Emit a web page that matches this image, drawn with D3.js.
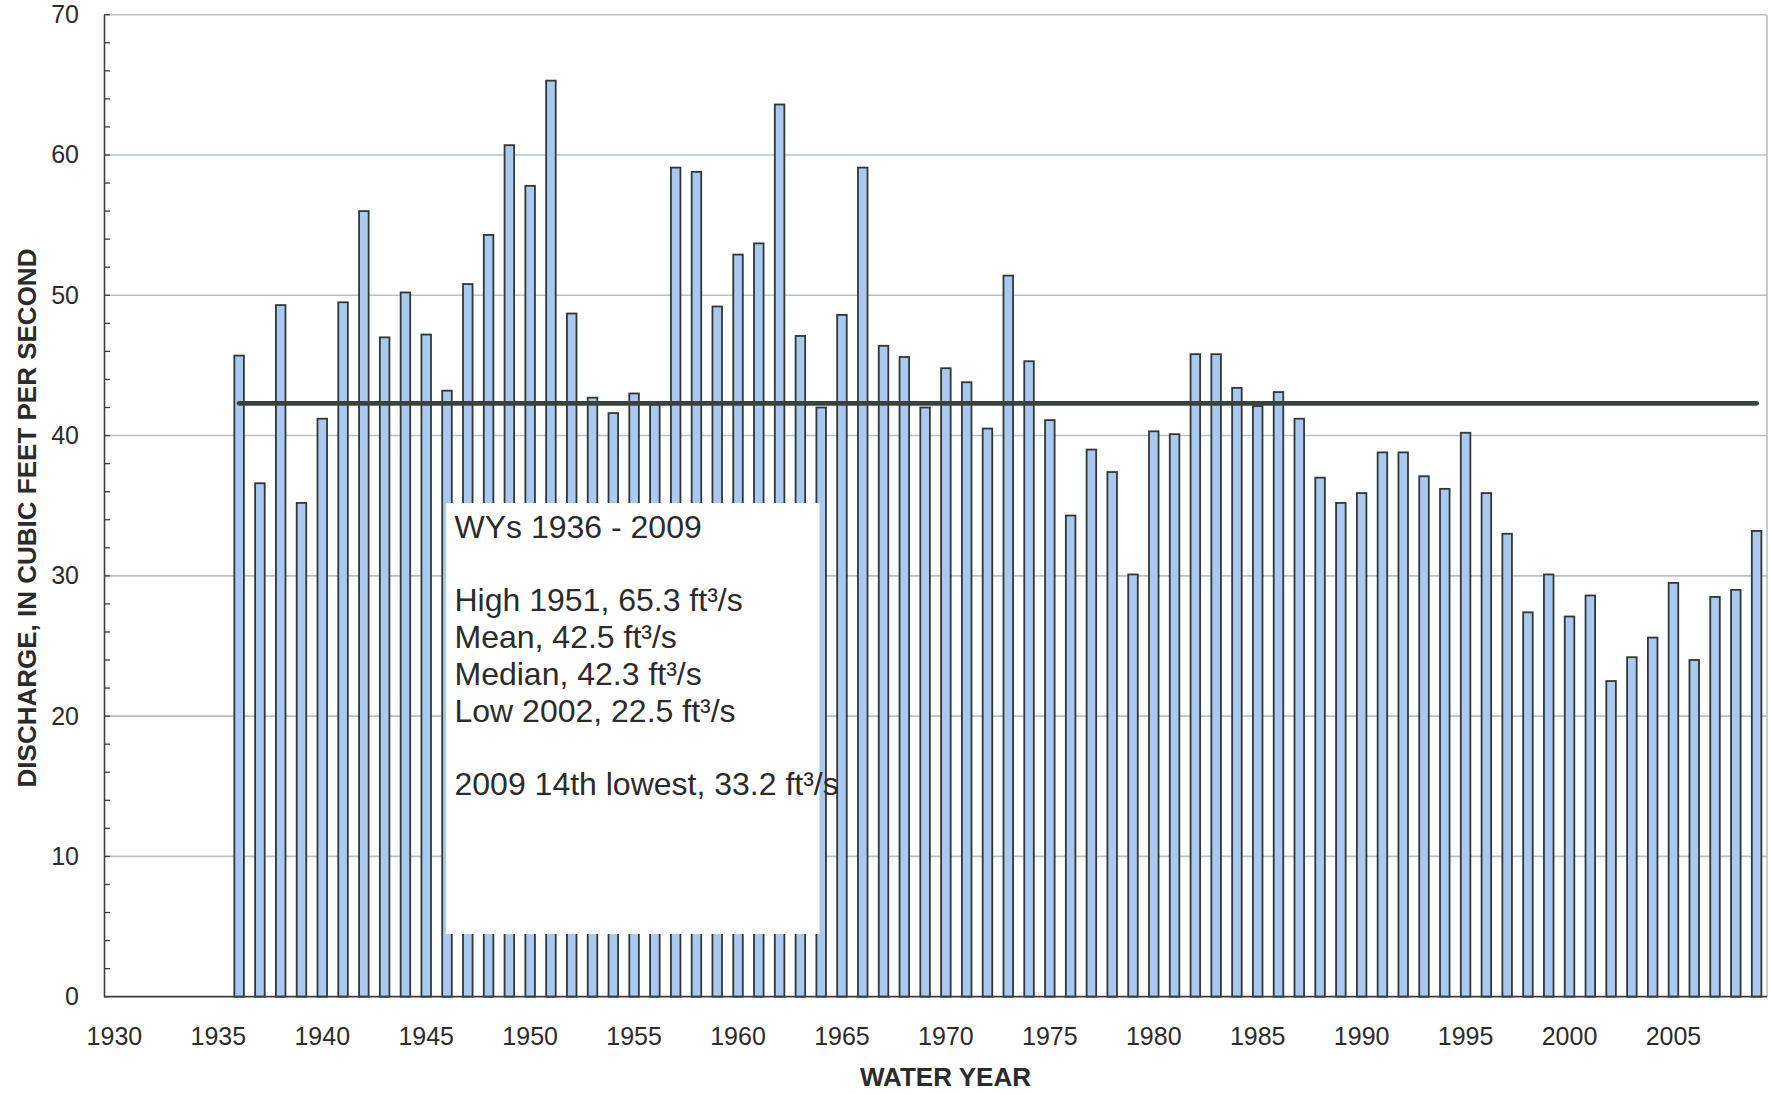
<!DOCTYPE html>
<html>
<head>
<meta charset="utf-8">
<script src="https://cdn.jsdelivr.net/npm/d3@7"></script>
<style>
  html, body { margin: 0; padding: 0; background: #ffffff; }
  svg { display: block; }
  text { font-family: "Liberation Sans", Arial, Helvetica, sans-serif; fill: #2b2b2b; }
</style>
</head>
<body>
<svg id="chart" width="1770" height="1094"></svg>
<script>
// ---------------- data ----------------
const waterYears = [1936,1937,1938,1939,1940,1941,1942,1943,1944,1945,
  1946,1947,1948,1949,1950,1951,1952,1953,1954,1955,
  1956,1957,1958,1959,1960,1961,1962,1963,1964,1965,
  1966,1967,1968,1969,1970,1971,1972,1973,1974,1975,
  1976,1977,1978,1979,1980,1981,1982,1983,1984,1985,
  1986,1987,1988,1989,1990,1991,1992,1993,1994,1995,
  1996,1997,1998,1999,2000,2001,2002,2003,2004,2005,
  2006,2007,2008,2009];
const discharge = [45.7,36.6,49.3,35.2,41.2,49.5,56.0,47.0,50.2,47.2,
  43.2,50.8,54.3,60.7,57.8,65.3,48.7,42.7,41.6,43.0,
  42.2,59.1,58.8,49.2,52.9,53.7,63.6,47.1,42.0,48.6,
  59.1,46.4,45.6,42.0,44.8,43.8,40.5,51.4,45.3,41.1,
  34.3,39.0,37.4,30.1,40.3,40.1,45.8,45.8,43.4,42.1,
  43.1,41.2,37.0,35.2,35.9,38.8,38.8,37.1,36.2,40.2,
  35.9,33.0,27.4,30.1,27.1,28.6,22.5,24.2,25.6,29.5,
  24.0,28.5,29.0,33.2];
const axisFirstYear = 1930;
const axisLastYear = 2009;
const xTickLabels = ["1930","1935","1940","1945","1950","1955","1960","1965",
  "1970","1975","1980","1985","1990","1995","2000","2005"];
const yTickValues = [0,10,20,30,40,50,60,70];
const yMinorStep = 2;
const medianDischarge = 42.3;
const noteLines = [
  "WYs 1936 - 2009",
  "",
  "High 1951, 65.3 ft\u00B3/s",
  "Mean, 42.5 ft\u00B3/s",
  "Median, 42.3 ft\u00B3/s",
  "Low 2002, 22.5 ft\u00B3/s",
  "",
  "2009 14th lowest, 33.2 ft\u00B3/s"
];
const xTitle = "WATER YEAR";
const yTitle = "DISCHARGE, IN CUBIC FEET PER SECOND";

// ---------------- layout ----------------
const plot = { left: 104, right: 1767, top: 14.7, bottom: 996.7 };
const svg = d3.select("#chart");

const x = d3.scaleBand()
  .domain(d3.range(axisFirstYear, axisLastYear + 1).map(String))
  .range([plot.left, plot.right])
  .paddingInner(0.54)
  .paddingOuter(0.27);

const y = d3.scaleLinear()
  .domain([0, 70])
  .range([plot.bottom, plot.top]);

const gridColor = "#b7c2c8";
const axisColor = "#3a3f3f";

// gridlines
svg.append("g")
  .selectAll("line")
  .data(yTickValues.filter(v => v > 0))
  .join("line")
  .attr("x1", plot.left).attr("x2", plot.right)
  .attr("y1", d => y(d)).attr("y2", d => y(d))
  .attr("stroke", gridColor).attr("stroke-width", 1.6);

// right border
svg.append("line")
  .attr("x1", plot.right).attr("x2", plot.right)
  .attr("y1", y(70)).attr("y2", y(0))
  .attr("stroke", gridColor).attr("stroke-width", 1.6);

// bars
svg.append("g")
  .selectAll("rect")
  .data(waterYears.map((yr, i) => ({ year: String(yr), value: discharge[i] })))
  .join("rect")
  .attr("x", d => x(d.year))
  .attr("width", x.bandwidth())
  .attr("y", d => y(d.value))
  .attr("height", d => y(0) - y(d.value))
  .attr("fill", "#abc9ee")
  .attr("stroke", "#2f3838")
  .attr("stroke-width", 1.8);

// median line
const firstYr = String(waterYears[0]);
const lastYr = String(waterYears[waterYears.length - 1]);
svg.append("line")
  .attr("x1", x(firstYr) + x.bandwidth() / 2)
  .attr("x2", x(lastYr) + x.bandwidth() / 2)
  .attr("y1", y(medianDischarge)).attr("y2", y(medianDischarge))
  .attr("stroke", "#3a423e").attr("stroke-width", 4.8)
  .attr("stroke-linecap", "round");

// y axis
const yAxis = d3.axisLeft(y).tickValues(yTickValues).tickSize(0).tickPadding(25)
  .tickFormat(d3.format("d"));
const gy = svg.append("g").attr("transform", `translate(${plot.left},0)`).call(yAxis);
gy.select(".domain").attr("stroke", axisColor).attr("stroke-width", 1.6);
gy.selectAll("text").attr("font-size", 25).attr("fill", "#2b2b2b")
  .attr("font-family", "Liberation Sans, Arial, sans-serif");

// minor ticks (inside)
svg.append("g")
  .selectAll("line")
  .data(d3.range(0, 70 + yMinorStep, yMinorStep))
  .join("line")
  .attr("x1", plot.left).attr("x2", plot.left + 6)
  .attr("y1", d => y(d)).attr("y2", d => y(d))
  .attr("stroke", axisColor).attr("stroke-width", 1.3);

// x axis
const xAxis = d3.axisBottom(x).tickValues(xTickLabels).tickSize(0).tickPadding(31);
const gx = svg.append("g").attr("transform", `translate(0,${plot.bottom})`).call(xAxis);
gx.select(".domain").attr("stroke", axisColor).attr("stroke-width", 1.8)
  .attr("d", `M${plot.left},0H${plot.right}`);
gx.selectAll("text").attr("font-size", 25).attr("fill", "#2b2b2b")
  .attr("font-family", "Liberation Sans, Arial, sans-serif");

// axis titles
svg.append("text")
  .attr("x", (plot.left + plot.right) / 2 + 10)
  .attr("y", 1086)
  .attr("text-anchor", "middle")
  .attr("font-size", 26).attr("font-weight", "bold")
  .attr("fill", "#333")
  .text(xTitle);

svg.append("text")
  .attr("transform", "translate(36,518) rotate(-90)")
  .attr("text-anchor", "middle")
  .attr("font-size", 26).attr("font-weight", "bold")
  .attr("fill", "#333")
  .text(yTitle);

// note box
const box = { x: 446, y: 503, w: 373.5, h: 431 };
svg.append("rect")
  .attr("x", box.x).attr("y", box.y)
  .attr("width", box.w).attr("height", box.h)
  .attr("fill", "#ffffff");

svg.append("g")
  .selectAll("text")
  .data(noteLines)
  .join("text")
  .attr("x", 454.5)
  .attr("y", (d, i) => 538 + i * 36.7)
  .attr("font-size", 32)
  .attr("fill", "#2b2b2b")
  .text(d => d);
</script>
</body>
</html>
